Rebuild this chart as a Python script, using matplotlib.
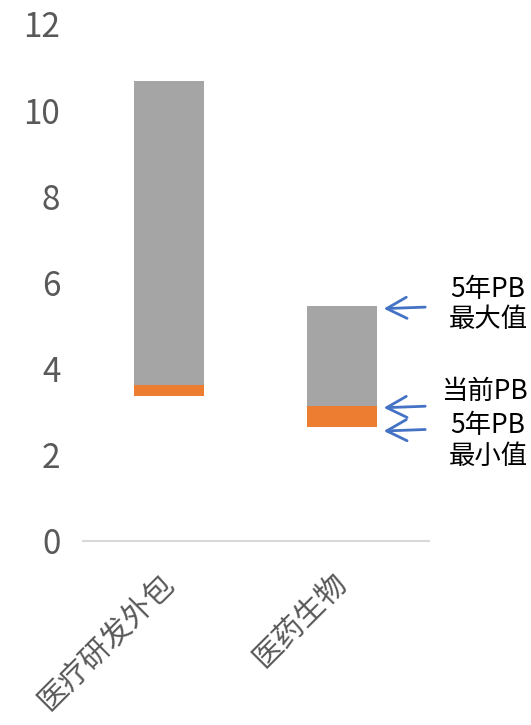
import numpy as np
import matplotlib
matplotlib.use('Agg')
import matplotlib.pyplot as plt

plt.rcParams['font.family'] = ['Noto Sans CJK SC', 'DejaVu Sans']

categories = ['医疗研发外包', '医药生物']
pb_min = np.array([3.37, 2.65])
pb_now = np.array([3.62, 3.13])
pb_max = np.array([10.68, 5.45])

yticks = [0, 2, 4, 6, 8, 10, 12]

grey = '#A5A5A5'
orange = '#ED7D31'
blue = '#4472C4'
label_col = '#595959'

fig = plt.figure(figsize=(5.31, 7.25), dpi=100)
ax = fig.add_axes([0.1554, 0.2538, 0.6516, 0.7132])

x = np.arange(len(categories))
w = 0.405
# invisible base, then min->current (orange), then current->max (grey)
ax.bar(x, pb_min, w, color='none')
ax.bar(x, pb_now - pb_min, w, bottom=pb_min, color=orange)
ax.bar(x, pb_max - pb_now, w, bottom=pb_now, color=grey)

ax.set_xlim(-0.5, 1.5)
ax.set_ylim(0, 12)
ax.set_yticks(yticks)
ax.set_yticklabels([str(t) for t in yticks], fontsize=24, color=label_col)
ax.set_xticks(x)
ax.set_xticklabels(categories, fontsize=21.5, color=label_col, rotation=45,
                   ha='right', va='center', rotation_mode='anchor')
ax.tick_params(axis='y', length=0, pad=16)
ax.tick_params(axis='x', length=0, pad=27)

for s in ['top', 'right', 'left']:
    ax.spines[s].set_visible(False)
ax.spines['bottom'].set_color('#D9D9D9')
ax.spines['bottom'].set_linewidth(1.5)

# arrows pointing at the second bar
arrow_kw = dict(arrowstyle='->,head_length=0.72,head_width=0.38', color=blue,
                lw=2, mutation_scale=20)
head_x, tail_x = 1.225, 1.497
for yv in [pb_max[1] - 0.06, pb_now[1] - 0.04, pb_min[1] - 0.1]:
    ax.annotate('', xy=(head_x, yv), xytext=(tail_x, yv + 0.04),
                arrowprops=arrow_kw, annotation_clip=False)

txt_kw = dict(fontsize=19, ha='center', va='center', color='black',
              linespacing=1.15, clip_on=False)
ax.text(1.844, 5.49, '5年PB\n最大值', **txt_kw)
ax.text(1.83, 3.46, '当前PB', **txt_kw)
ax.text(1.844, 2.32, '5年PB\n最小值', **txt_kw)

fig.savefig('out.png', dpi=100)
